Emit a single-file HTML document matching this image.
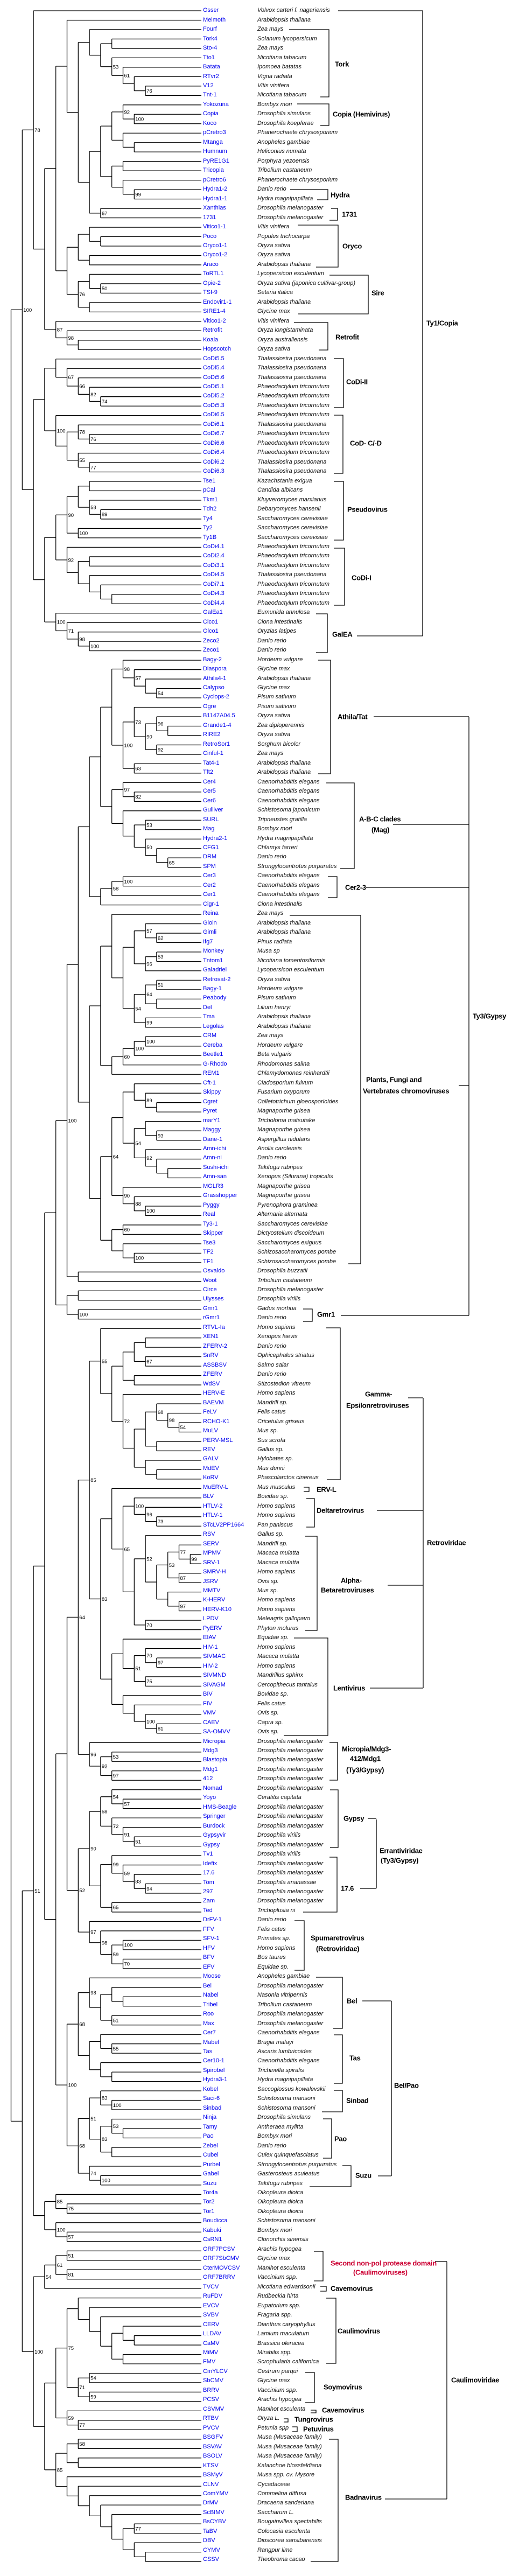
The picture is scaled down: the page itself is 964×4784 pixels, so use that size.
<!DOCTYPE html>
<html><head><meta charset="utf-8">
<style>
html,body{margin:0;padding:0;background:#fff}
#wrap{position:relative;width:964px;height:4784px;overflow:hidden;background:#fff;font-family:"Liberation Sans",Arial,sans-serif}
#rows{position:absolute;left:0;top:11.26px;width:964px}
.r{position:relative;height:17.48px;line-height:17.48px;font-size:11px;white-space:nowrap}
.r b{position:absolute;left:377px;font-weight:normal;color:#0000ee}
.r i{position:absolute;left:478px;color:#111}
svg{position:absolute;left:0;top:0}
.L{position:absolute;font-weight:bold;font-size:13px;letter-spacing:-0.3px;line-height:1;transform:translateY(-50%);white-space:nowrap;color:#000}
.red{color:#cc0033}
</style></head><body><div id="wrap">
<svg id="sv" width="964" height="4784" viewBox="0 0 964 4784"></svg>
<div id="rows">
<div class="r"><b>Osser</b><i>Volvox carteri f. nagariensis</i></div>
<div class="r"><b>Melmoth</b><i>Arabidopsis thaliana</i></div>
<div class="r"><b>Fourf</b><i>Zea mays</i></div>
<div class="r"><b>Tork4</b><i>Solanum lycopersicum</i></div>
<div class="r"><b>Sto-4</b><i>Zea mays</i></div>
<div class="r"><b>Tto1</b><i>Nicotiana tabacum</i></div>
<div class="r"><b>Batata</b><i>Ipomoea batatas</i></div>
<div class="r"><b>RTvr2</b><i>Vigna radiata</i></div>
<div class="r"><b>V12</b><i>Vitis vinifera</i></div>
<div class="r"><b>Tnt-1</b><i>Nicotiana tabacum</i></div>
<div class="r"><b>Yokozuna</b><i>Bombyx mori</i></div>
<div class="r"><b>Copia</b><i>Drosophila simulans</i></div>
<div class="r"><b>Koco</b><i>Drosophila koepferae</i></div>
<div class="r"><b>pCretro3</b><i>Phanerochaete chrysosporium</i></div>
<div class="r"><b>Mtanga</b><i>Anopheles gambiae</i></div>
<div class="r"><b>Humnum</b><i>Heliconius numata</i></div>
<div class="r"><b>PyRE1G1</b><i>Porphyra yezoensis</i></div>
<div class="r"><b>Tricopia</b><i>Tribolium castaneum</i></div>
<div class="r"><b>pCretro6</b><i>Phanerochaete chrysosporium</i></div>
<div class="r"><b>Hydra1-2</b><i>Danio rerio</i></div>
<div class="r"><b>Hydra1-1</b><i>Hydra magnipapillata</i></div>
<div class="r"><b>Xanthias</b><i>Drosophila melanogaster</i></div>
<div class="r"><b>1731</b><i>Drosophila melanogaster</i></div>
<div class="r"><b>Vitico1-1</b><i>Vitis vinifera</i></div>
<div class="r"><b>Poco</b><i>Populus trichocarpa</i></div>
<div class="r"><b>Oryco1-1</b><i>Oryza sativa</i></div>
<div class="r"><b>Oryco1-2</b><i>Oryza sativa</i></div>
<div class="r"><b>Araco</b><i>Arabidopsis thaliana</i></div>
<div class="r"><b>ToRTL1</b><i>Lycopersicon esculentum</i></div>
<div class="r"><b>Opie-2</b><i>Oryza sativa (japonica cultivar-group)</i></div>
<div class="r"><b>TSI-9</b><i>Setaria italica</i></div>
<div class="r"><b>Endovir1-1</b><i>Arabidopsis thaliana</i></div>
<div class="r"><b>SIRE1-4</b><i>Glycine max</i></div>
<div class="r"><b>Vitico1-2</b><i>Vitis vinifera</i></div>
<div class="r"><b>Retrofit</b><i>Oryza longistaminata</i></div>
<div class="r"><b>Koala</b><i>Oryza australiensis</i></div>
<div class="r"><b>Hopscotch</b><i>Oryza sativa</i></div>
<div class="r"><b>CoDi5.5</b><i>Thalassiosira pseudonana</i></div>
<div class="r"><b>CoDi5.4</b><i>Thalassiosira pseudonana</i></div>
<div class="r"><b>CoDi5.6</b><i>Thalassiosira pseudonana</i></div>
<div class="r"><b>CoDi5.1</b><i>Phaeodactylum tricornutum</i></div>
<div class="r"><b>CoDi5.2</b><i>Phaeodactylum tricornutum</i></div>
<div class="r"><b>CoDi5.3</b><i>Phaeodactylum tricornutum</i></div>
<div class="r"><b>CoDi6.5</b><i>Phaeodactylum tricornutum</i></div>
<div class="r"><b>CoDi6.1</b><i>Thalassiosira pseudonana</i></div>
<div class="r"><b>CoDi6.7</b><i>Phaeodactylum tricornutum</i></div>
<div class="r"><b>CoDi6.6</b><i>Phaeodactylum tricornutum</i></div>
<div class="r"><b>CoDi6.4</b><i>Phaeodactylum tricornutum</i></div>
<div class="r"><b>CoDi6.2</b><i>Thalassiosira pseudonana</i></div>
<div class="r"><b>CoDi6.3</b><i>Thalassiosira pseudonana</i></div>
<div class="r"><b>Tse1</b><i>Kazachstania exigua</i></div>
<div class="r"><b>pCal</b><i>Candida albicans</i></div>
<div class="r"><b>Tkm1</b><i>Kluyveromyces marxianus</i></div>
<div class="r"><b>Tdh2</b><i>Debaryomyces hansenii</i></div>
<div class="r"><b>Ty4</b><i>Saccharomyces cerevisiae</i></div>
<div class="r"><b>Ty2</b><i>Saccharomyces cerevisiae</i></div>
<div class="r"><b>Ty1B</b><i>Saccharomyces cerevisiae</i></div>
<div class="r"><b>CoDi4.1</b><i>Phaeodactylum tricornutum</i></div>
<div class="r"><b>CoDi2.4</b><i>Phaeodactylum tricornutum</i></div>
<div class="r"><b>CoDi3.1</b><i>Phaeodactylum tricornutum</i></div>
<div class="r"><b>CoDi4.5</b><i>Thalassiosira pseudonana</i></div>
<div class="r"><b>CoDi7.1</b><i>Phaeodactylum tricornutum</i></div>
<div class="r"><b>CoDi4.3</b><i>Phaeodactylum tricornutum</i></div>
<div class="r"><b>CoDi4.4</b><i>Phaeodactylum tricornutum</i></div>
<div class="r"><b>GalEa1</b><i>Eumunida annulosa</i></div>
<div class="r"><b>Cico1</b><i>Ciona intestinalis</i></div>
<div class="r"><b>Olco1</b><i>Oryzias latipes</i></div>
<div class="r"><b>Zeco2</b><i>Danio rerio</i></div>
<div class="r"><b>Zeco1</b><i>Danio rerio</i></div>
<div class="r"><b>Bagy-2</b><i>Hordeum vulgare</i></div>
<div class="r"><b>Diaspora</b><i>Glycine max</i></div>
<div class="r"><b>Athila4-1</b><i>Arabidopsis thaliana</i></div>
<div class="r"><b>Calypso</b><i>Glycine max</i></div>
<div class="r"><b>Cyclops-2</b><i>Pisum sativum</i></div>
<div class="r"><b>Ogre</b><i>Pisum sativum</i></div>
<div class="r"><b>B1147A04.5</b><i>Oryza sativa</i></div>
<div class="r"><b>Grande1-4</b><i>Zea diploperennis</i></div>
<div class="r"><b>RIRE2</b><i>Oryza sativa</i></div>
<div class="r"><b>RetroSor1</b><i>Sorghum bicolor</i></div>
<div class="r"><b>Cinful-1</b><i>Zea mays</i></div>
<div class="r"><b>Tat4-1</b><i>Arabidopsis thaliana</i></div>
<div class="r"><b>Tft2</b><i>Arabidopsis thaliana</i></div>
<div class="r"><b>Cer4</b><i>Caenorhabditis elegans</i></div>
<div class="r"><b>Cer5</b><i>Caenorhabditis elegans</i></div>
<div class="r"><b>Cer6</b><i>Caenorhabditis elegans</i></div>
<div class="r"><b>Gulliver</b><i>Schistosoma japonicum</i></div>
<div class="r"><b>SURL</b><i>Tripneustes gratilla</i></div>
<div class="r"><b>Mag</b><i>Bombyx mori</i></div>
<div class="r"><b>Hydra2-1</b><i>Hydra magnipapillata</i></div>
<div class="r"><b>CFG1</b><i>Chlamys farreri</i></div>
<div class="r"><b>DRM</b><i>Danio rerio</i></div>
<div class="r"><b>SPM</b><i>Strongylocentrotus purpuratus</i></div>
<div class="r"><b>Cer3</b><i>Caenorhabditis elegans</i></div>
<div class="r"><b>Cer2</b><i>Caenorhabditis elegans</i></div>
<div class="r"><b>Cer1</b><i>Caenorhabditis elegans</i></div>
<div class="r"><b>Cigr-1</b><i>Ciona intestinalis</i></div>
<div class="r"><b>Reina</b><i>Zea mays</i></div>
<div class="r"><b>Gloin</b><i>Arabidopsis thaliana</i></div>
<div class="r"><b>Gimli</b><i>Arabidopsis thaliana</i></div>
<div class="r"><b>Ifg7</b><i>Pinus radiata</i></div>
<div class="r"><b>Monkey</b><i>Musa sp</i></div>
<div class="r"><b>Tntom1</b><i>Nicotiana tomentosiformis</i></div>
<div class="r"><b>Galadriel</b><i>Lycopersicon esculentum</i></div>
<div class="r"><b>Retrosat-2</b><i>Oryza sativa</i></div>
<div class="r"><b>Bagy-1</b><i>Hordeum vulgare</i></div>
<div class="r"><b>Peabody</b><i>Pisum sativum</i></div>
<div class="r"><b>Del</b><i>Lilium henryi</i></div>
<div class="r"><b>Tma</b><i>Arabidopsis thaliana</i></div>
<div class="r"><b>Legolas</b><i>Arabidopsis thaliana</i></div>
<div class="r"><b>CRM</b><i>Zea mays</i></div>
<div class="r"><b>Cereba</b><i>Hordeum vulgare</i></div>
<div class="r"><b>Beetle1</b><i>Beta vulgaris</i></div>
<div class="r"><b>G-Rhodo</b><i>Rhodomonas salina</i></div>
<div class="r"><b>REM1</b><i>Chlamydomonas reinhardtii</i></div>
<div class="r"><b>Cft-1</b><i>Cladosporium fulvum</i></div>
<div class="r"><b>Skippy</b><i>Fusarium oxyporum</i></div>
<div class="r"><b>Cgret</b><i>Colletotrichum gloeosporioides</i></div>
<div class="r"><b>Pyret</b><i>Magnaporthe grisea</i></div>
<div class="r"><b>marY1</b><i>Tricholoma matsutake</i></div>
<div class="r"><b>Maggy</b><i>Magnaporthe grisea</i></div>
<div class="r"><b>Dane-1</b><i>Aspergillus nidulans</i></div>
<div class="r"><b>Amn-ichi</b><i>Anolis carolensis</i></div>
<div class="r"><b>Amn-ni</b><i>Danio rerio</i></div>
<div class="r"><b>Sushi-ichi</b><i>Takifugu rubripes</i></div>
<div class="r"><b>Amn-san</b><i>Xenopus (Silurana) tropicalis</i></div>
<div class="r"><b>MGLR3</b><i>Magnaporthe grisea</i></div>
<div class="r"><b>Grasshopper</b><i>Magnaporthe grisea</i></div>
<div class="r"><b>Pyggy</b><i>Pyrenophora graminea</i></div>
<div class="r"><b>Real</b><i>Alternaria alternata</i></div>
<div class="r"><b>Ty3-1</b><i>Saccharomyces cerevisiae</i></div>
<div class="r"><b>Skipper</b><i>Dictyostelium discoideum</i></div>
<div class="r"><b>Tse3</b><i>Saccharomyces exiguus</i></div>
<div class="r"><b>TF2</b><i>Schizosaccharomyces pombe</i></div>
<div class="r"><b>TF1</b><i>Schizosaccharomyces pombe</i></div>
<div class="r"><b>Osvaldo</b><i>Drosophila buzzatii</i></div>
<div class="r"><b>Woot</b><i>Tribolium castaneum</i></div>
<div class="r"><b>Circe</b><i>Drosophila melanogaster</i></div>
<div class="r"><b>Ulysses</b><i>Drosophila virilis</i></div>
<div class="r"><b>Gmr1</b><i>Gadus morhua</i></div>
<div class="r"><b>rGmr1</b><i>Danio rerio</i></div>
<div class="r"><b>RTVL-Ia</b><i>Homo sapiens</i></div>
<div class="r"><b>XEN1</b><i>Xenopus laevis</i></div>
<div class="r"><b>ZFERV-2</b><i>Danio rerio</i></div>
<div class="r"><b>SnRV</b><i>Ophicephalus striatus</i></div>
<div class="r"><b>ASSBSV</b><i>Salmo salar</i></div>
<div class="r"><b>ZFERV</b><i>Danio rerio</i></div>
<div class="r"><b>WdSV</b><i>Stizostedion vitreum</i></div>
<div class="r"><b>HERV-E</b><i>Homo sapiens</i></div>
<div class="r"><b>BAEVM</b><i>Mandrill sp.</i></div>
<div class="r"><b>FeLV</b><i>Felis catus</i></div>
<div class="r"><b>RCHO-K1</b><i>Cricetulus griseus</i></div>
<div class="r"><b>MuLV</b><i>Mus sp.</i></div>
<div class="r"><b>PERV-MSL</b><i>Sus scrofa</i></div>
<div class="r"><b>REV</b><i>Gallus sp.</i></div>
<div class="r"><b>GALV</b><i>Hylobates sp.</i></div>
<div class="r"><b>MdEV</b><i>Mus dunni</i></div>
<div class="r"><b>KoRV</b><i>Phascolarctos cinereus</i></div>
<div class="r"><b>MuERV-L</b><i>Mus musculus</i></div>
<div class="r"><b>BLV</b><i>Bovidae sp.</i></div>
<div class="r"><b>HTLV-2</b><i>Homo sapiens</i></div>
<div class="r"><b>HTLV-1</b><i>Homo sapiens</i></div>
<div class="r"><b>STcLV2PP1664</b><i>Pan paniscus</i></div>
<div class="r"><b>RSV</b><i>Gallus sp.</i></div>
<div class="r"><b>SERV</b><i>Mandrill sp.</i></div>
<div class="r"><b>MPMV</b><i>Macaca mulatta</i></div>
<div class="r"><b>SRV-1</b><i>Macaca mulatta</i></div>
<div class="r"><b>SMRV-H</b><i>Homo sapiens</i></div>
<div class="r"><b>JSRV</b><i>Ovis sp.</i></div>
<div class="r"><b>MMTV</b><i>Mus sp.</i></div>
<div class="r"><b>K-HERV</b><i>Homo sapiens</i></div>
<div class="r"><b>HERV-K10</b><i>Homo sapiens</i></div>
<div class="r"><b>LPDV</b><i>Meleagris gallopavo</i></div>
<div class="r"><b>PyERV</b><i>Phyton molurus</i></div>
<div class="r"><b>EIAV</b><i>Equidae sp.</i></div>
<div class="r"><b>HIV-1</b><i>Homo sapiens</i></div>
<div class="r"><b>SIVMAC</b><i>Macaca mulatta</i></div>
<div class="r"><b>HIV-2</b><i>Homo sapiens</i></div>
<div class="r"><b>SIVMND</b><i>Mandrillus sphinx</i></div>
<div class="r"><b>SIVAGM</b><i>Cercopithecus tantalus</i></div>
<div class="r"><b>BIV</b><i>Bovidae sp.</i></div>
<div class="r"><b>FIV</b><i>Felis catus</i></div>
<div class="r"><b>VMV</b><i>Ovis sp.</i></div>
<div class="r"><b>CAEV</b><i>Capra sp.</i></div>
<div class="r"><b>SA-OMVV</b><i>Ovis sp.</i></div>
<div class="r"><b>Micropia</b><i>Drosophila melanogaster</i></div>
<div class="r"><b>Mdg3</b><i>Drosophila melanogaster</i></div>
<div class="r"><b>Blastopia</b><i>Drosophila melanogaster</i></div>
<div class="r"><b>Mdg1</b><i>Drosophila melanogaster</i></div>
<div class="r"><b>412</b><i>Drosophila melanogaster</i></div>
<div class="r"><b>Nomad</b><i>Drosophila melanogaster</i></div>
<div class="r"><b>Yoyo</b><i>Ceratitis capitata</i></div>
<div class="r"><b>HMS-Beagle</b><i>Drosophila melanogaster</i></div>
<div class="r"><b>Springer</b><i>Drosophila melanogaster</i></div>
<div class="r"><b>Burdock</b><i>Drosophila melanogaster</i></div>
<div class="r"><b>Gypsyvir</b><i>Drosophila virilis</i></div>
<div class="r"><b>Gypsy</b><i>Drosophila melanogaster</i></div>
<div class="r"><b>Tv1</b><i>Drosophila virilis</i></div>
<div class="r"><b>Idefix</b><i>Drosophila melanogaster</i></div>
<div class="r"><b>17.6</b><i>Drosophila melanogaster</i></div>
<div class="r"><b>Tom</b><i>Drosophila ananassae</i></div>
<div class="r"><b>297</b><i>Drosophila melanogaster</i></div>
<div class="r"><b>Zam</b><i>Drosophila melanogaster</i></div>
<div class="r"><b>Ted</b><i>Trichoplusia ni</i></div>
<div class="r"><b>DrFV-1</b><i>Danio rerio</i></div>
<div class="r"><b>FFV</b><i>Felis catus</i></div>
<div class="r"><b>SFV-1</b><i>Primates sp.</i></div>
<div class="r"><b>HFV</b><i>Homo sapiens</i></div>
<div class="r"><b>BFV</b><i>Bos taurus</i></div>
<div class="r"><b>EFV</b><i>Equidae sp.</i></div>
<div class="r"><b>Moose</b><i>Anopheles gambiae</i></div>
<div class="r"><b>Bel</b><i>Drosophila melanogaster</i></div>
<div class="r"><b>Nabel</b><i>Nasonia vitripennis</i></div>
<div class="r"><b>Tribel</b><i>Tribolium castaneum</i></div>
<div class="r"><b>Roo</b><i>Drosophila melanogaster</i></div>
<div class="r"><b>Max</b><i>Drosophila melanogaster</i></div>
<div class="r"><b>Cer7</b><i>Caenorhabditis elegans</i></div>
<div class="r"><b>Mabel</b><i>Brugia malayi</i></div>
<div class="r"><b>Tas</b><i>Ascaris lumbricoides</i></div>
<div class="r"><b>Cer10-1</b><i>Caenorhabditis elegans</i></div>
<div class="r"><b>Spirobel</b><i>Trichinella spiralis</i></div>
<div class="r"><b>Hydra3-1</b><i>Hydra magnipapillata</i></div>
<div class="r"><b>Kobel</b><i>Saccoglossus kowalevskii</i></div>
<div class="r"><b>Saci-6</b><i>Schistosoma mansoni</i></div>
<div class="r"><b>Sinbad</b><i>Schistosoma mansoni</i></div>
<div class="r"><b>Ninja</b><i>Drosophila simulans</i></div>
<div class="r"><b>Tamy</b><i>Antheraea mylitta</i></div>
<div class="r"><b>Pao</b><i>Bombyx mori</i></div>
<div class="r"><b>Zebel</b><i>Danio rerio</i></div>
<div class="r"><b>Cubel</b><i>Culex quinquefasciatus</i></div>
<div class="r"><b>Purbel</b><i>Strongylocentrotus purpuratus</i></div>
<div class="r"><b>Gabel</b><i>Gasterosteus aculeatus</i></div>
<div class="r"><b>Suzu</b><i>Takifugu rubripes</i></div>
<div class="r"><b>Tor4a</b><i>Oikopleura dioica</i></div>
<div class="r"><b>Tor2</b><i>Oikopleura dioica</i></div>
<div class="r"><b>Tor1</b><i>Oikopleura dioica</i></div>
<div class="r"><b>Boudicca</b><i>Schistosoma mansoni</i></div>
<div class="r"><b>Kabuki</b><i>Bombyx mori</i></div>
<div class="r"><b>CsRN1</b><i>Clonorchis sinensis</i></div>
<div class="r"><b>ORF7PCSV</b><i>Arachis hypogea</i></div>
<div class="r"><b>ORF7SbCMV</b><i>Glycine max</i></div>
<div class="r"><b>CterMOVCSV</b><i>Manihot esculenta</i></div>
<div class="r"><b>ORF7BRRV</b><i>Vaccinium spp.</i></div>
<div class="r"><b>TVCV</b><i>Nicotiana edwardsonii</i></div>
<div class="r"><b>RuFDV</b><i>Rudbeckia hirta</i></div>
<div class="r"><b>EVCV</b><i>Eupatorium spp.</i></div>
<div class="r"><b>SVBV</b><i>Fragaria spp.</i></div>
<div class="r"><b>CERV</b><i>Dianthus caryophyllus</i></div>
<div class="r"><b>LLDAV</b><i>Lamium maculatum</i></div>
<div class="r"><b>CaMV</b><i>Brassica oleracea</i></div>
<div class="r"><b>MiMV</b><i>Mirabilis spp.</i></div>
<div class="r"><b>FMV</b><i>Scrophularia californica</i></div>
<div class="r"><b>CmYLCV</b><i>Cestrum parqui</i></div>
<div class="r"><b>SbCMV</b><i>Glycine max</i></div>
<div class="r"><b>BRRV</b><i>Vaccinium spp.</i></div>
<div class="r"><b>PCSV</b><i>Arachis hypogea</i></div>
<div class="r"><b>CSVMV</b><i>Manihot esculenta</i></div>
<div class="r"><b>RTBV</b><i>Oryza L.</i></div>
<div class="r"><b>PVCV</b><i>Petunia spp</i></div>
<div class="r"><b>BSGFV</b><i>Musa (Musaceae family)</i></div>
<div class="r"><b>BSVAV</b><i>Musa (Musaceae family)</i></div>
<div class="r"><b>BSOLV</b><i>Musa (Musaceae family)</i></div>
<div class="r"><b>KTSV</b><i>Kalanchoe blossfeldiana</i></div>
<div class="r"><b>BSMyV</b><i>Musa spp. cv. Mysore</i></div>
<div class="r"><b>CLNV</b><i>Cycadaceae</i></div>
<div class="r"><b>ComYMV</b><i>Commelina diffusa</i></div>
<div class="r"><b>DrMV</b><i>Dracaena sanderiana</i></div>
<div class="r"><b>ScBIMV</b><i>Saccharum L.</i></div>
<div class="r"><b>BsCYBV</b><i>Bougainvillea spectabilis</i></div>
<div class="r"><b>TaBV</b><i>Colocasia esculenta</i></div>
<div class="r"><b>DBV</b><i>Dioscorea sansibarensis</i></div>
<div class="r"><b>CYMV</b><i>Rangpur lime</i></div>
<div class="r"><b>CSSV</b><i>Theobroma cacao</i></div>
</div>

<div class="L" style="left:622px;top:119px">Tork</div>
<div class="L" style="left:618px;top:212px">Copia (Hemivirus)</div>
<div class="L" style="left:614px;top:362px">Hydra</div>
<div class="L" style="left:635px;top:398px">1731</div>
<div class="L" style="left:636px;top:457px">Oryco</div>
<div class="L" style="left:690px;top:544px">Sire</div>
<div class="L" style="left:623px;top:626px">Retrofit</div>
<div class="L" style="left:643px;top:709px">CoDi-II</div>
<div class="L" style="left:650px;top:823px">CoD- C/-D</div>
<div class="L" style="left:645px;top:946px">Pseudovirus</div>
<div class="L" style="left:653px;top:1073px">CoDi-I</div>
<div class="L" style="left:617px;top:1178px">GalEA</div>
<div class="L" style="left:792px;top:600px">Ty1/Copia</div>
<div class="L" style="left:627px;top:1331px">Athila/Tat</div>
<div class="L" style="left:667px;top:1521px">A-B-C clades</div>
<div class="L" style="left:690px;top:1541px">(Mag)</div>
<div class="L" style="left:641px;top:1648px">Cer2-3</div>
<div class="L" style="left:680px;top:2005px">Plants, Fungi and</div>
<div class="L" style="left:674px;top:2026px">Vertebrates chromoviruses</div>
<div class="L" style="left:589px;top:2441px">Gmr1</div>
<div class="L" style="left:878px;top:1887px">Ty3/Gypsy</div>
<div class="L" style="left:678px;top:2589px">Gamma-</div>
<div class="L" style="left:643px;top:2610px">Epsilonretroviruses</div>
<div class="L" style="left:588px;top:2766px">ERV-L</div>
<div class="L" style="left:588px;top:2805px">Deltaretrovirus</div>
<div class="L" style="left:633px;top:2935px">Alpha-</div>
<div class="L" style="left:596px;top:2953px">Betaretroviruses</div>
<div class="L" style="left:619px;top:3135px">Lentivirus</div>
<div class="L" style="left:793px;top:2865px">Retroviridae</div>
<div class="L" style="left:635px;top:3248px">Micropia/Mdg3-</div>
<div class="L" style="left:650px;top:3266px">412/Mdg1</div>
<div class="L" style="left:643px;top:3287px">(Ty3/Gypsy)</div>
<div class="L" style="left:638px;top:3377px">Gypsy</div>
<div class="L" style="left:633px;top:3507px">17.6</div>
<div class="L" style="left:705px;top:3437px">Errantiviridae</div>
<div class="L" style="left:707px;top:3455px">(Ty3/Gypsy)</div>
<div class="L" style="left:577px;top:3599px">Spumaretrovirus</div>
<div class="L" style="left:587px;top:3619px">(Retroviridae)</div>
<div class="L" style="left:644px;top:3716px">Bel</div>
<div class="L" style="left:649px;top:3822px">Tas</div>
<div class="L" style="left:643px;top:3901px">Sinbad</div>
<div class="L" style="left:621px;top:3972px">Pao</div>
<div class="L" style="left:660px;top:4040px">Suzu</div>
<div class="L" style="left:732px;top:3873px">Bel/Pao</div>
<div class="L red" style="left:614px;top:4203px">Second non-pol protease domain</div>
<div class="L red" style="left:656px;top:4220px">(Caulimoviruses)</div>
<div class="L" style="left:614px;top:4250px">Cavemovirus</div>
<div class="L" style="left:627px;top:4329px">Caulimovirus</div>
<div class="L" style="left:601px;top:4433px">Soymovirus</div>
<div class="L" style="left:598px;top:4476px">Cavemovirus</div>
<div class="L" style="left:547px;top:4493px">Tungrovirus</div>
<div class="L" style="left:563px;top:4511px">Petuvirus</div>
<div class="L" style="left:641px;top:4638px">Badnavirus</div>
<div class="L" style="left:838px;top:4420px">Caulimoviridae</div>
</div>
<script>
(function(){
var D="2 0 2:78 1:100;5 2;7 5;9 7;9 9;9 8 9:53;10 9 10:61;11 10;12 11 12:76;12 12;10 6 10:92;11 10 11:100;11 11;10 9;11 10;11 11;10 8;10 10;10 9;11 10 11:99;11 11;8 7 8:67;8 8;7 4;8 7;8 8;7 6;7 7;7 5 6:76;8 7 8:50;8 8;7 6;7 7;4 3 4:87;5 4 5:98;6 5;6 6;4 1;5 4 5:67;6 5 6:66;7 6 7:82;8 7 8:74;8 8;4 3 4:100;6 4 6:78;7 6 7:76;7 7;6 5 6:55;7 6 7:77;7 7;7 2 5:90;7 7;7 6 7:58;8 7 8:89;8 8;6 5 6:100;6 6;5 4 5:92;7 5;7 7;7 6;8 7;9 8;9 9;4 3 4:100;5 4 5:71;6 5 6:98;7 6 7:100;7 7;10 0 10:98 5:100 2:51;11 10 11:57;12 11;13 12 13:54;13 13;11 9 10:100 11:73;13 11 12:90 13:96;14 13;14 14;13 12 13:92;13 13;11 10 11:63;11 11;10 8 10:97;11 10 11:82;11 11;10 9;12 10 12:53;12 12;12 11 12:50;13 12;14 13 14:65;14 14;10 7 10:100 9:58;10 10;9 9;8 8;9 6;12 9 12:57;13 12 13:62;13 13;13 11 13:53 12:96;13 13;12 12;13 10 13:51 12:64 11:54;13 13;13 12;13 13;12 11 12:99;12 12;12 8 12:100 11:100 10:60;12 12;11 11;10 10;9 9;11 7 9:64;12 11 12:89;13 12;13 13;12 10 11:54;13 12 13:93;13 13;12 11 12:92;13 12;14 13;14 14;10 9 10:90;11 10 11:88;12 11 12:100;12 12;10 8 10:60;10 10;10 9;11 10 11:100;11 11;6 5;6 6;6 4;6 6;6 5 6:100;6 6;8 3 8:55 7:85 6:64;12 8;12 12;12 11 12:67;12 12;11 10;11 11;10 9 10:72;13 10 13:68;14 13 14:98;15 14 15:54;15 15;13 12;13 13;12 11;13 12;13 13;9 7 8:83;11 9 10:65 11:100;12 11 12:96;13 12 13:73;13 13;12 10 12:52;15 12 14:53 15:77;16 15 16:99;16 16;15 14 15:87;15 15;14 13;15 14 15:97;15 15;12 11 12:70;12 12;10 8;12 10 12:70 11:51;13 12 13:97;13 13;12 11 12:75;12 12;10 9;11 10;12 11 12:100;13 12 13:81;13 13;7 6 7:96;9 7 9:53 8:92;9 9;9 8 9:97;9 9;9 5 9:54 8:58 7:90 6:52;10 9 10:57;10 10;9 8 9:72;10 9 10:91;11 10 11:51;11 11;9 7 9:99;10 9 10:59;11 10 11:83;12 11 12:94;12 12;9 8 9:65;9 9;7 6 7:97;8 7 8:98;10 8 10:100 9:59;10 10;10 9 10:70;10 10;7 4 7:98 6:68 5:100;9 7;10 9;10 10;9 8 9:51;9 9;8 6;9 8 9:55;9 9;8 7;9 8;9 9;8 5 8:83 7:51 6:68;9 8 9:100;9 9;9 7 9:53 8:83;10 9;10 10;9 8;9 9;7 6 7:74;8 7 8:100;8 8;4 2 4:85;5 4 5:75;5 5;4 3 4:100;5 4 5:57;5 5;5 1 5:51 4:61 3:54 2:100;5 5;5 4 5:81;5 5;3 3;6 2 5:75;7 6;8 7;10 8;11 10;11 11;10 9;10 10;7 5 7:54 6:71;7 7;7 6 7:59;7 7;5 4 5:59;6 5 6:77;6 6;6 3 6:58 4:85;6 6;6 5;6 6;5 4;6 5;7 6;8 7;9 8;11 9 11:77;11 11;11 10;12 11;12 12";
var P=17.48,Y0=20,LEAFX=374;
function X(l){return 20.5+20.8*l;}
var root={lv:0,ch:[]},path=[root];
D.split(";").forEach(function(e,i){
  var t=e.split(" "),p=+t[0],s=+t[1],bs={};
  for(var k=2;k<t.length;k++){var q=t[k].split(":");bs[q[0]]=q[1];}
  for(var l=s+1;l<=p;l++){var n={lv:l,ch:[],b:bs[l]};path[l-1].ch.push(n);path[l]=n;}
  path[p].ch.push({leaf:1,y:Y0+i*P});
});
var d="",texts=[];
function calc(n){if(n.leaf)return n.y;var a=n.ch.map(calc);n.y=(a[0]+a[a.length-1])/2;return n.y;}
calc(root);
function draw(n){
  if(n.leaf)return;
  var x=X(n.lv);
  var f=n.ch[0].y,l=n.ch[n.ch.length-1].y;
  if(l>f)d+="M"+x+" "+f+"V"+l;
  n.ch.forEach(function(c){
    var cx=c.leaf?LEAFX:X(c.lv);
    d+="M"+x+" "+c.y+"H"+cx;
    draw(c);
  });
  if(n.b)texts.push([x+2,n.y+3.5,n.b]);
}
draw(root);
var B=[[611,55,180,537,595],[611,193,233,552,595],[609,352,371,539,589],[627,387,409,615,612],[628,418,496,553,587],[684,511,583,612,554],[609,599,650,546,592],[638,666,757,620,620],[637,771,879,620,620],[638,894,1003,620,620],[640,1018,1124,620,620],[608,1140,1212,587,587],[785,20,1181,628,785],[614,1226,1437,591,591],[658,1454,1613,606,632],[626,1628,1667,609,609],[670,1700,2347,538,647],[580,2431,2454,563,563],[871,1331,2443,871,871],[632,2466,2748,606,607],[574,2762,2770,564,564],[584,2783,2836,569,569],[589,2853,3028,567,567],[609,3042,3223,546,527],[786,2596,3135,786,786],[627,3236,3306,612,612],[628,3324,3431,613,613],[626,3449,3551,612,563],[699,3379,3507,699,699],[565,3567,3659,547,547],[636,3672,3767,587,619],[636,3779,3869,620,620],[636,3882,3922,620,598],[616,3935,4008,600,600],[652,4022,4061,636,575],[727,3716,4041,727,727],[600,4181,4236,583,583],[606,4246,4255,595,595],[624,4268,4389,606,606],[584,4406,4462,567,567],[587,4476,4481,577,577],[535,4492,4498,527,527],[552,4507,4516,543,543],[628,4530,4757,611,577],[830,4200,4641,830,830]];
B.forEach(function(b){d+="M"+b[3]+" "+b[1]+"H"+b[0]+"V"+b[2]+"H"+b[4];});
var C=[[663,785,1181],[694,871,1331],[730,871,1531],[680,871,1648],[852,871,2016],[633,871,2443],[758,786,2596],[700,786,2805],[720,786,2944],[687,786,3135],[683,699,3377],[669,699,3507],[673,727,3716],[702,727,4041],[808,830,4200],[715,830,4641]];
C.forEach(function(c){d+="M"+c[0]+" "+c[2]+"H"+c[1];});
var ns="http://www.w3.org/2000/svg",sv=document.getElementById("sv");
var pth=document.createElementNS(ns,"path");
pth.setAttribute("d",d);pth.setAttribute("fill","none");pth.setAttribute("stroke","#000");pth.setAttribute("stroke-width","1.3");
sv.appendChild(pth);
texts.forEach(function(t){
  var e=document.createElementNS(ns,"text");
  e.setAttribute("x",t[0]);e.setAttribute("y",t[1]);
  e.setAttribute("font-family","Liberation Sans, Arial, sans-serif");
  e.setAttribute("font-size","9.5");e.setAttribute("fill","#000");
  e.textContent=t[2];sv.appendChild(e);
});
})();
</script>
</body></html>
